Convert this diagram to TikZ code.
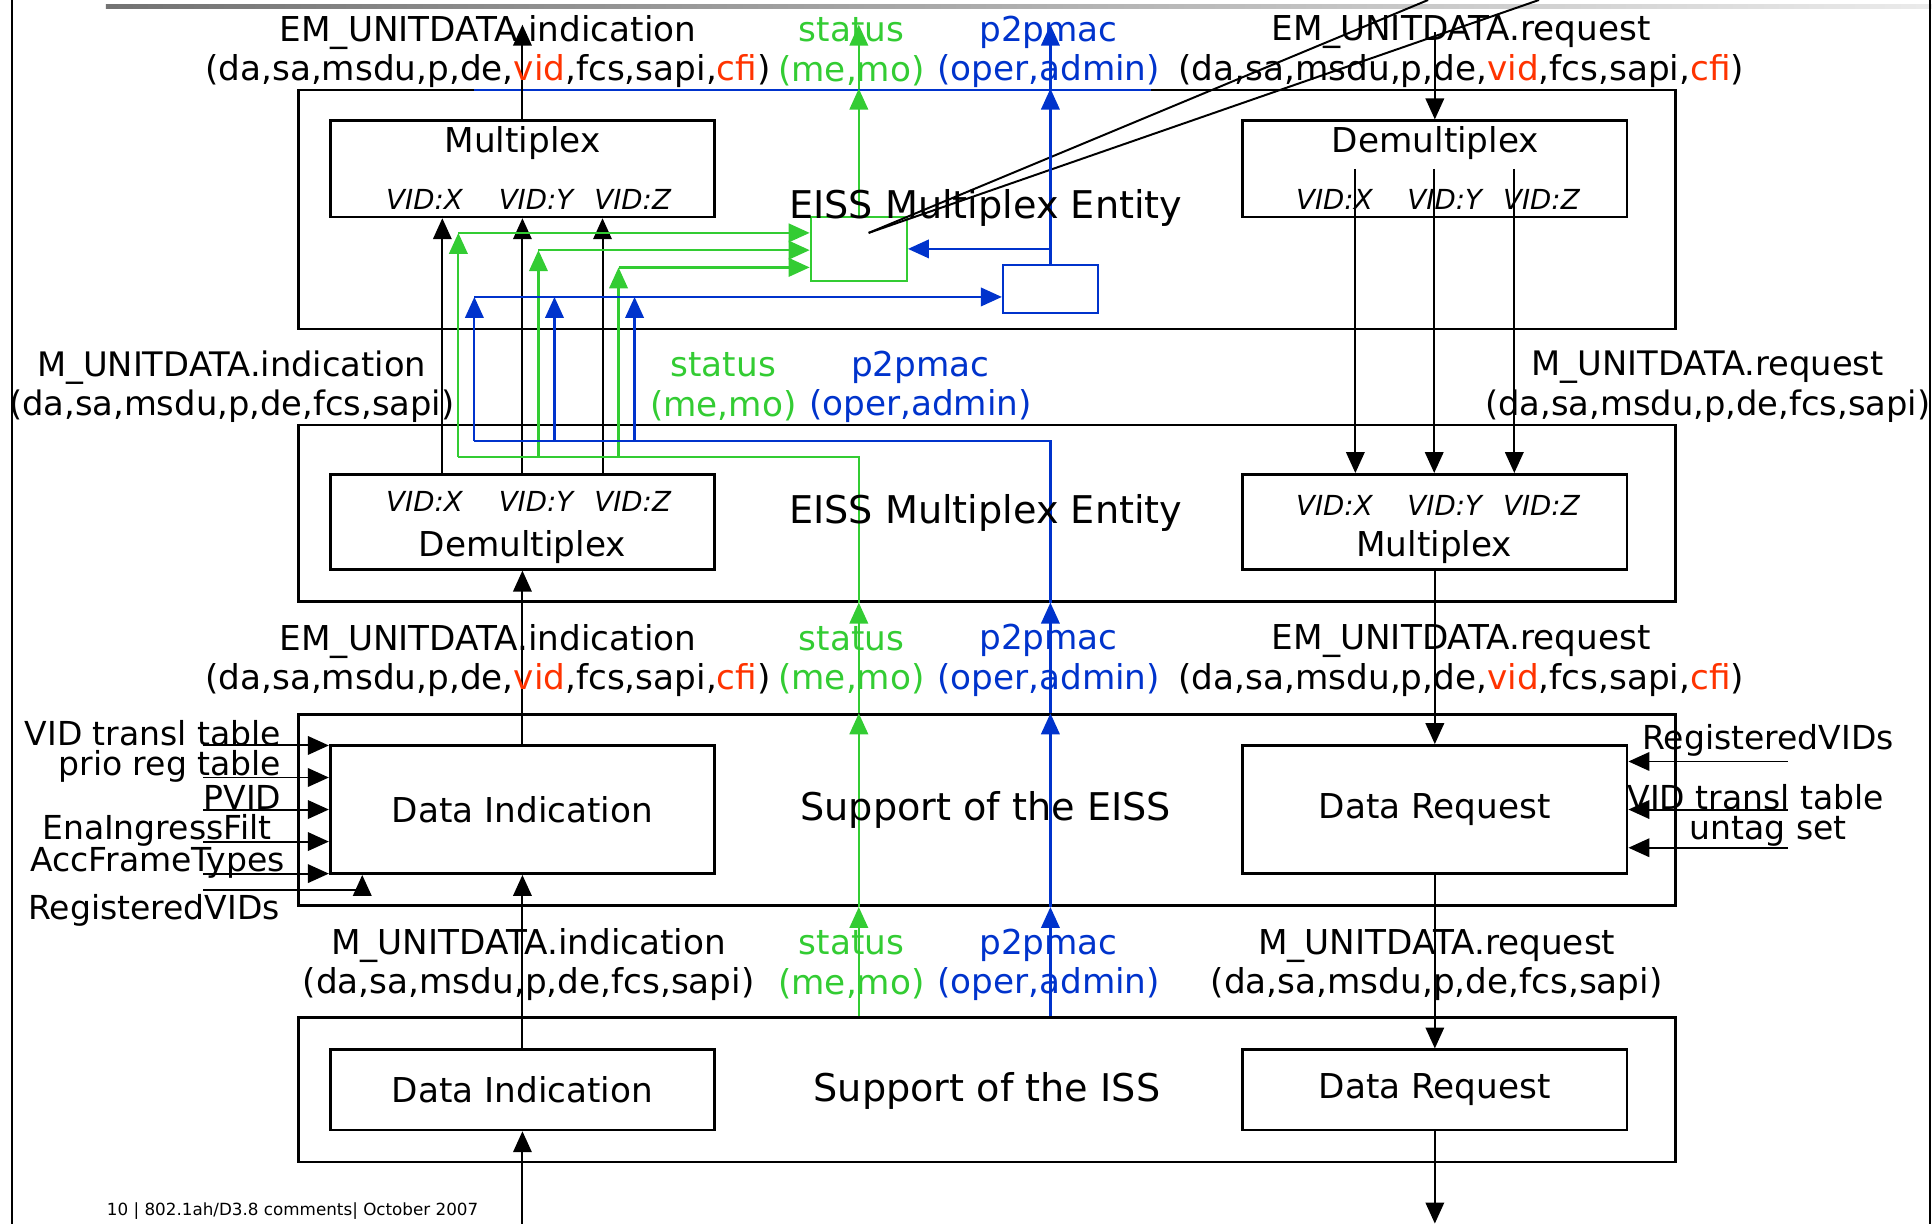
\documentclass[tikz,border=0pt]{standalone}
\usepackage{fontspec}
\setmainfont{DejaVu Sans}
\usetikzlibrary{arrows.meta}
\definecolor{gn}{RGB}{51,204,51}
\definecolor{bu}{RGB}{0,51,204}
\definecolor{rd}{RGB}{255,51,0}
\newcommand{\redtxt}[1]{\textcolor{rd}{#1}}
\tikzset{every picture/.style={line width=0.8pt}}
\tikzset{
	blockbox/.style={draw,line width=1.1pt,inner sep=0pt,font=\fontsize{13.9}{16}\selectfont},
	lbl/.style={align=center,font=\fontsize{13.9}{16}\selectfont,inner sep=0pt},
	side/.style={font=\fontsize{13.4}{15}\selectfont,inner sep=0pt},
	vid/.style={font=\fontsize{11.2}{13}\selectfont\itshape,inner sep=0pt},
	ent/.style={font=\fontsize{15.5}{18}\selectfont,inner sep=0pt},
	tipped/.style={-{Triangle[length=8.5pt,width=7.5pt]}},
	gline/.style={gn,line width=0.9pt},
	bline/.style={bu,line width=0.9pt}}

\begin{document}
\begin{tikzpicture}[x=0.5pt,y=0.5pt,yscale=-1,xscale=1]
	\useasboundingbox (0,0) rectangle (1568,993);
	\coordinate (topend) at (0,20);
	\coordinate (botend) at (0,993);

	% page frame
	\shade [left color=black!55,right color=black!8] (86,3.5) rectangle (1568,7);
	\draw [line width=0.9pt] (9.5,0) -- (9.5,993);
	\draw [line width=0.9pt] (1566.5,0) -- (1566.5,993);

	%Shape: Rectangle
	\node [blockbox,minimum width=559pt,minimum height=97pt] (entA) at (801,170) {};
	\node [blockbox,minimum width=559pt,minimum height=71.5pt] (entB) at (801,416.5) {};
	\node [blockbox,minimum width=559pt,minimum height=77.5pt] (supE) at (801,657.5) {};
	\node [blockbox,minimum width=559pt,minimum height=58.5pt] (supI) at (801,884.5) {};
	%Shape: Rectangle
	\node [blockbox,minimum width=156pt,minimum height=39pt] (muxA) at (424,137) {};
	\node [blockbox,minimum width=156pt,minimum height=39pt] (dmxA) at (1164.5,137) {};
	\node [blockbox,minimum width=156pt,minimum height=38.5pt] (dmxB) at (424,423.5) {};
	\node [blockbox,minimum width=156pt,minimum height=38.5pt] (muxB) at (1164.5,423.5) {};
	\node [blockbox,minimum width=156pt,minimum height=52pt] (indE) at (424,657) {Data Indication};
	\node [blockbox,minimum width=156pt,minimum height=52pt] (reqE) at (1164.5,657) {Data Request};
	\node [blockbox,minimum width=156pt,minimum height=32.5pt] (indI) at (424,884.5) {Data Indication};
	\node [blockbox,minimum width=156pt,minimum height=32.5pt] (reqI) at (1164.5,884.5) {Data Request};
	%Shape: Rectangle
	\node [draw=gn,line width=0.9pt,minimum width=39pt,minimum height=26pt,inner sep=0pt] (gbox) at (697,202) {};
	\node [draw=bu,line width=0.9pt,minimum width=38.5pt,minimum height=19.5pt,inner sep=0pt] (bbox) at (852.5,234.5) {};
	\draw [bline] (385,73) -- (934,73);

	%Straight Lines
	\draw [tipped] (muxA.north) -- (muxA.north |- topend);
	\draw [tipped] (dmxA.north |- 0,26) -- (dmxA.north);
	\foreach \xx in {359,424,489}
		\draw [tipped] (dmxB.north -| \xx,0) -- (muxA.south -| \xx,0);
	\foreach \xx in {1100,1164,1229}
		\draw [tipped] (dmxA.center -| \xx,0) -- (muxB.north -| \xx,0);
	\draw [tipped] (indE.north) -- (dmxB.south);
	\draw [tipped] (muxB.south) -- (reqE.north);
	\draw [tipped] (indI.north) -- (indE.south);
	\draw [tipped] (reqE.south) -- (reqI.north);
	\draw [tipped] (indI.south |- botend) -- (indI.south);
	\draw [tipped] (reqI.south) -- (reqI.south |- botend);
	\draw (705,189) -- (1159,0);
	\draw (705,189) -- (1249,0);

	% side inputs
	\foreach \yy in {605,631,657,683,709}
		\draw [tipped] (165,\yy) -- (indE.west |- 0,\yy);
	\draw [tipped] (165,722) -- (294,722) -- (indE.south -| 294,0);
	\foreach \yy in {618,657,688}
		\draw [tipped] (1451,\yy) -- (reqE.east |- 0,\yy);

	% status lines
	\foreach \xx/\yy in {372/189,437/203,502/217}{
		\draw [gline,tipped] (\xx,371) -- (\xx,\yy);
		\draw [gline,tipped] (\xx,\yy) -- (gbox.west |- 0,\yy);
	}
	\draw [gline] (372,371) -- (gbox.north |- 0,371) -- (gbox.north |- entB.south);
	\draw [gline,tipped] (gbox.north |- supE.north) -- (gbox.north |- entB.south);
	\draw [gline,tipped] (gbox.north |- supE.south) -- (gbox.north |- supE.north);
	\draw [gline,tipped] (gbox.north |- supI.north) -- (gbox.north |- supE.south);
	\draw [gline,tipped] (gbox.north) -- (gbox.north |- entA.north);
	\draw [gline,tipped] (gbox.north |- entA.north) -- (gbox.north |- topend);

	% p2pmac lines
	\draw [bline,tipped] (bbox.north) -- (bbox.north |- entA.north);
	\draw [bline,tipped] (bbox.north |- entA.north) -- (bbox.north |- topend);
	\draw [bline,tipped] (bbox.north |- gbox.east) -- (gbox.east);
	\draw [bline,tipped] (385,241) -- (bbox.west |- 0,241);
	\foreach \xx in {385,450,515}
		\draw [bline,tipped] (\xx,358) -- (\xx,241);
	\draw [bline] (385,358) -- (bbox.north |- 0,358) -- (bbox.north |- entB.south);
	\draw [bline,tipped] (bbox.north |- supE.north) -- (bbox.north |- entB.south);
	\draw [bline,tipped] (bbox.north |- supE.south) -- (bbox.north |- supE.north);
	\draw [bline,tipped] (bbox.north |- supI.north) -- (bbox.north |- supE.south);

	% Text Node
	\node [lbl] (muxAt) at (424,116) {Multiplex};
	\node [vid] (muxAx) at (344.5,162) {VID:X};
	\node [vid] (muxAy) at (435,162) {VID:Y};
	\node [vid] (muxAz) at (513.5,162) {VID:Z};
	\node [lbl] (dmxAt) at (1165,116) {Demultiplex};
	\node [vid] (dmxAx) at (1083,162) {VID:X};
	\node [vid] (dmxAy) at (1172.5,162) {VID:Y};
	\node [vid] (dmxAz) at (1251,162) {VID:Z};
	\node [vid] (dmxBx) at (344.5,407) {VID:X};
	\node [vid] (dmxBy) at (435,407) {VID:Y};
	\node [vid] (dmxBz) at (513.5,407) {VID:Z};
	\node [lbl] (dmxBt) at (424,444) {Demultiplex};
	\node [vid] (muxBx) at (1083,410) {VID:X};
	\node [vid] (muxBy) at (1172.5,410) {VID:Y};
	\node [vid] (muxBz) at (1251,410) {VID:Z};
	\node [lbl] (muxBt) at (1164,444) {Multiplex};
	% Text Node
	\node [ent] (entAt) at (800,169) {EISS Multiplex Entity};
	\node [ent] (entBt) at (800,416.5) {EISS Multiplex Entity};
	\node [ent] (supEt) at (800,657) {Support of the EISS};
	\node [ent] (supIt) at (801,885) {Support of the ISS};

	% Text Node
	\node [lbl] (emIndA) at (396,42) {EM\_UNITDATA.indication\\(da,sa,msdu,p,de,\redtxt{vid},fcs,sapi,\redtxt{cfi})};
	\node [lbl,text=gn] (stA) at (691,42) {status\\(me,mo)};
	\node [lbl,text=bu] (p2A) at (851,42) {p2pmac\\(oper,admin)};
	\node [lbl] (emReqA) at (1186,42) {EM\_UNITDATA.request\\(da,sa,msdu,p,de,\redtxt{vid},fcs,sapi,\redtxt{cfi})};
	% Text Node
	\node [lbl,font=\fontsize{13.7}{16}\selectfont] (mIndB) at (188,314) {M\_UNITDATA.indication\\(da,sa,msdu,p,de,fcs,sapi)};
	\node [lbl,text=gn] (stB) at (587,314) {status\\(me,mo)};
	\node [lbl,text=bu] (p2B) at (747,314) {p2pmac\\(oper,admin)};
	\node [lbl,font=\fontsize{13.7}{16}\selectfont] (mReqB) at (1386,314) {M\_UNITDATA.request\\(da,sa,msdu,p,de,fcs,sapi)};
	% Text Node
	\node [lbl] (emIndC) at (396,536) {EM\_UNITDATA.indication\\(da,sa,msdu,p,de,\redtxt{vid},fcs,sapi,\redtxt{cfi})};
	\node [lbl,text=gn] (stC) at (691,536) {status\\(me,mo)};
	\node [lbl,text=bu] (p2C) at (851,536) {p2pmac\\(oper,admin)};
	\node [lbl] (emReqC) at (1186,536) {EM\_UNITDATA.request\\(da,sa,msdu,p,de,\redtxt{vid},fcs,sapi,\redtxt{cfi})};
	% Text Node
	\node [lbl] (mIndD) at (429,783) {M\_UNITDATA.indication\\(da,sa,msdu,p,de,fcs,sapi)};
	\node [lbl,text=gn] (stD) at (691,783) {status\\(me,mo)};
	\node [lbl,text=bu] (p2D) at (851,783) {p2pmac\\(oper,admin)};
	\node [lbl] (mReqD) at (1166,783) {M\_UNITDATA.request\\(da,sa,msdu,p,de,fcs,sapi)};

	% Text Node
	\node [side,anchor=east] (vtL) at (229,595) {VID transl table};
	\node [side,anchor=east] (prL) at (229,622) {prio reg table};
	\node [side,anchor=east] (pvL) at (229,647) {PVID};
	\node [side,anchor=east] (eiL) at (221,674) {EnaIngressFilt};
	\node [side,anchor=east] (afL) at (232,700) {AccFrameTypes};
	\node [side] (rvL) at (125,739) {RegisteredVIDs};
	\node [side] (rvR) at (1435,601) {RegisteredVIDs};
	\node [side] (vtR) at (1425,647) {VID transl table};
	\node [side] (utR) at (1435,675) {untag set};

	% Text Node
	\node [font=\fontsize{6.8}{8}\selectfont,anchor=west,inner sep=0pt] (foot) at (86,983) {10 | 802.1ah/D3.8 comments| October 2007};

\end{tikzpicture}
\end{document}
